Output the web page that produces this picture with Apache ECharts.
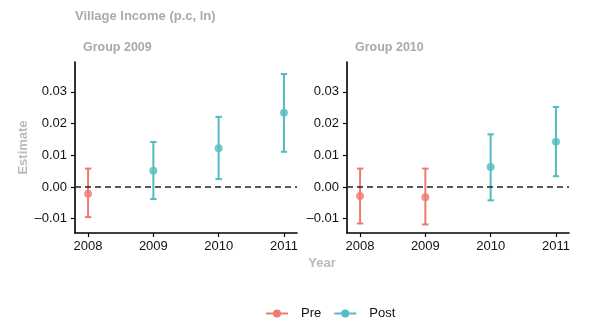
<!DOCTYPE html>
<html>
<head>
<meta charset="utf-8">
<script src="https://cdn.jsdelivr.net/npm/echarts@6/dist/echarts.min.js"></script>
<style>html,body{margin:0;padding:0;background:#fff}#c{width:599px;height:332px}</style>
</head>
<body>
<div id="c"></div>
<script>
var years = [2008, 2009, 2010, 2011];
var yTicks = [-0.01, 0, 0.01, 0.02, 0.03];
var g2009Est = [-0.0021, 0.0051, 0.0122, 0.0234];
var g2009Lo = [-0.0095, -0.0038, 0.0025, 0.0111];
var g2009Hi = [0.0058, 0.0142, 0.0221, 0.0356];
var g2009Period = ['Pre', 'Post', 'Post', 'Post'];
var g2010Est = [-0.0028, -0.0032, 0.0063, 0.0143];
var g2010Lo = [-0.0115, -0.0118, -0.0042, 0.0034];
var g2010Hi = [0.0058, 0.0058, 0.0166, 0.0252];
var g2010Period = ['Pre', 'Pre', 'Post', 'Post'];

var COLORS = {Pre: '#EE7B70', Post: '#52BCC0'};
var FONT = 'Liberation Sans, Arial, Helvetica, sans-serif';

function pts(est, period, p) {
  var out = [];
  years.forEach(function (y, i) { if (period[i] === p) out.push([y, est[i]]); });
  return out;
}
function bars(lo, hi, period) {
  return years.map(function (y, i) { return [y, lo[i], hi[i], period[i] === 'Pre' ? 0 : 1]; });
}
function errRender(params, api) {
  var x = api.value(0);
  var a = api.coord([x, api.value(1)]);
  var b = api.coord([x, api.value(2)]);
  var c = api.value(3) === 0 ? COLORS.Pre : COLORS.Post;
  var w = 3.2;
  var st = {stroke: c, lineWidth: 2};
  return {type: 'group', children: [
    {type: 'line', shape: {x1: a[0], y1: a[1], x2: b[0], y2: b[1]}, style: st},
    {type: 'line', shape: {x1: a[0] - w, y1: a[1], x2: a[0] + w, y2: a[1]}, style: st},
    {type: 'line', shape: {x1: b[0] - w, y1: b[1], x2: b[0] + w, y2: b[1]}, style: st}
  ]};
}
function xAxis(idx) {
  return {
    type: 'value', gridIndex: idx, min: 2007.8, max: 2011.2, splitLine: {show: false},
    axisLine: {show: true, onZero: false, lineStyle: {color: '#000', width: 1.6}},
    axisTick: {show: true, length: 4, customValues: years, lineStyle: {color: '#000', width: 1.2}},
    axisLabel: {customValues: years, color: '#111', fontSize: 13, fontFamily: FONT, margin: 7,
      formatter: function (v) { return String(v); }}
  };
}
function yAxis(idx, name) {
  return {
    type: 'value', gridIndex: idx, min: -0.0145, max: 0.0394, splitLine: {show: false},
    name: name, nameLocation: 'middle', nameGap: 45, nameRotate: 90,
    nameTextStyle: {color: '#BBBBBB', fontSize: 13, fontWeight: 'bold', fontFamily: FONT},
    axisLine: {show: true, onZero: false, lineStyle: {color: '#000', width: 1.6}},
    axisTick: {show: true, length: 4, customValues: yTicks, lineStyle: {color: '#000', width: 1.2}},
    axisLabel: {customValues: yTicks, color: '#111', fontSize: 13, fontFamily: FONT, margin: 8,
      formatter: function (v) { return (v < 0 ? '\u2013' : '') + Math.abs(v).toFixed(2); }}
  };
}
function panel(idx, est, lo, hi, period) {
  return [
    {type: 'custom', name: 'err' + idx, xAxisIndex: idx, yAxisIndex: idx, renderItem: errRender,
      data: bars(lo, hi, period), encode: {x: 0, y: [1, 2]}, z: 2, silent: true,
      markLine: {silent: true, symbol: 'none', label: {show: false},
        lineStyle: {color: '#222', type: [6, 4], width: 1.6}, data: [{yAxis: 0}]}},
    {type: 'scatter', name: 'pre' + idx, xAxisIndex: idx, yAxisIndex: idx, symbolSize: 8,
      itemStyle: {color: COLORS.Pre}, data: pts(est, period, 'Pre'), z: 3},
    {type: 'scatter', name: 'post' + idx, xAxisIndex: idx, yAxisIndex: idx, symbolSize: 8,
      itemStyle: {color: COLORS.Post}, data: pts(est, period, 'Post'), z: 3}
  ];
}

var chart = echarts.init(document.getElementById('c'), null, {renderer: 'canvas'});
var series = [].concat(
  panel(0, g2009Est, g2009Lo, g2009Hi, g2009Period),
  panel(1, g2010Est, g2010Lo, g2010Hi, g2010Period),
  [
    {type: 'line', name: 'Pre', data: [], xAxisIndex: 0, yAxisIndex: 0, symbol: 'circle', symbolSize: 8,
      itemStyle: {color: COLORS.Pre}, lineStyle: {color: COLORS.Pre, width: 2.2}},
    {type: 'line', name: 'Post', data: [], xAxisIndex: 0, yAxisIndex: 0, symbol: 'circle', symbolSize: 8,
      itemStyle: {color: COLORS.Post}, lineStyle: {color: COLORS.Post, width: 2.2}}
  ]
);
chart.setOption({
  animation: false,
  backgroundColor: '#fff',
  textStyle: {fontFamily: FONT},
  title: [
    {text: 'Village Income (p.c, ln)', left: 70, top: 5,
      textStyle: {color: '#AAAAAA', fontSize: 13, fontWeight: 'bold', fontFamily: FONT}},
    {text: 'Group 2009', left: 78, top: 36,
      textStyle: {color: '#AAAAAA', fontSize: 12.5, fontWeight: 'bold', fontFamily: FONT}},
    {text: 'Group 2010', left: 350, top: 36,
      textStyle: {color: '#AAAAAA', fontSize: 12.5, fontWeight: 'bold', fontFamily: FONT}}
  ],
  graphic: [
    {type: 'text', x: 322, y: 263, style: {text: 'Year', fill: '#BBBBBB', fontSize: 13, fontWeight: 'bold',
      fontFamily: FONT, textAlign: 'center', textVerticalAlign: 'middle'}}
  ],
  legend: {
    data: ['Pre', 'Post'], left: 260, top: 302, itemWidth: 22, itemHeight: 10, itemGap: 12,
    textStyle: {color: '#111', fontSize: 13, fontFamily: FONT, padding: [0, 0, 0, 8]}
  },
  grid: [
    {left: 75, right: 302, top: 62, bottom: 99},
    {left: 347, right: 30, top: 62, bottom: 99}
  ],
  xAxis: [xAxis(0), xAxis(1)],
  yAxis: [yAxis(0, 'Estimate'), yAxis(1, '')],
  series: series
});
</script>
</body>
</html>
